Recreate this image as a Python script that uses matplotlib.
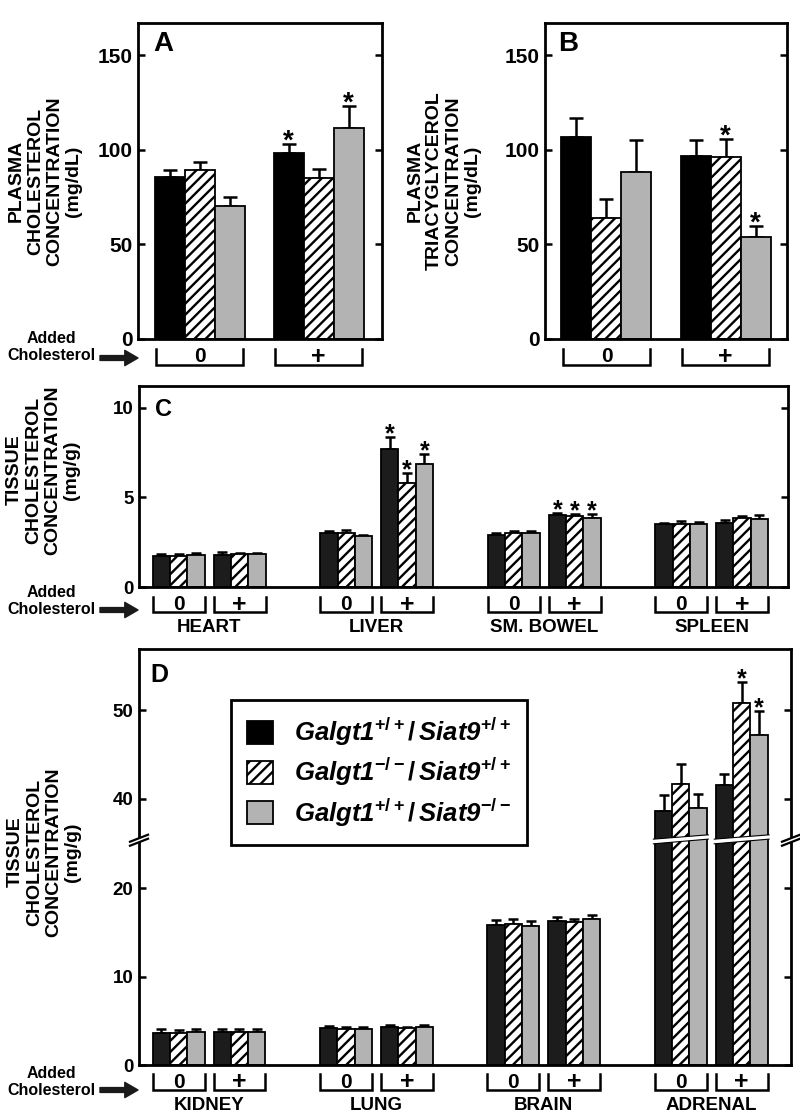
import numpy as np
import matplotlib
matplotlib.use('Agg')
import matplotlib.pyplot as plt
import matplotlib.transforms as mtransforms
from matplotlib.patches import Patch, Polygon, FancyArrowPatch
from matplotlib.lines import Line2D

plt.rcParams['font.family'] = ['Liberation Sans', 'DejaVu Sans']
plt.rcParams['font.weight'] = 'bold'
plt.rcParams['hatch.linewidth'] = 1.7
plt.rcParams['mathtext.fontset'] = 'custom'
plt.rcParams['mathtext.rm'] = 'Liberation Sans:italic:bold'
plt.rcParams['mathtext.it'] = 'Liberation Sans:italic:bold'
plt.rcParams['mathtext.sf'] = 'Liberation Sans:bold'
plt.rcParams['mathtext.bf'] = 'Liberation Sans:bold'

# ------------------------------------------------------------------ data
conditions = ['0', '+']
genotype_labels = [
    r'$\mathrm{Galgt1}^{\mathsf{+/+}}\mathsf{/}\,\mathrm{Siat9}^{\mathsf{+/+}}$',
    r'$\mathrm{Galgt1}^{\mathsf{-/-}}\mathsf{/}\,\mathrm{Siat9}^{\mathsf{+/+}}$',
    r'$\mathrm{Galgt1}^{\mathsf{+/+}}\mathsf{/}\,\mathrm{Siat9}^{\mathsf{-/-}}$',
]

# Panel A: plasma cholesterol (mg/dL) [condition][genotype]
plasma_chol_mean = [[85.7, 89.4, 70.4], [98.4, 85.0, 111.6]]
plasma_chol_sem = [[3.7, 4.3, 4.6], [4.6, 5.0, 11.4]]
plasma_chol_sig = [[0, 0, 0], [1, 0, 1]]

# Panel B: plasma triacylglycerol (mg/dL)
plasma_tg_mean = [[107.0, 64.0, 88.3], [96.8, 96.0, 54.0]]
plasma_tg_sem = [[10.0, 10.0, 16.7], [8.2, 9.6, 5.5]]
plasma_tg_sig = [[0, 0, 0], [0, 1, 1]]

# Panel C: tissue cholesterol (mg/g) [tissue][condition][genotype]
tissues_c = ['HEART', 'LIVER', 'SM. BOWEL', 'SPLEEN']
tissue_c_mean = [
    [[1.75, 1.75, 1.80], [1.80, 1.82, 1.82]],
    [[3.00, 3.02, 2.82], [7.67, 5.80, 6.85]],
    [[2.92, 3.00, 3.00], [4.00, 3.95, 3.85]],
    [[3.52, 3.50, 3.50], [3.58, 3.85, 3.78]],
]
tissue_c_sem = [
    [[0.08, 0.08, 0.10], [0.15, 0.07, 0.07]],
    [[0.12, 0.13, 0.10], [0.67, 0.55, 0.55]],
    [[0.10, 0.10, 0.10], [0.12, 0.10, 0.20]],
    [[0.07, 0.20, 0.10], [0.18, 0.10, 0.25]],
]
tissue_c_sig = [
    [[0, 0, 0], [0, 0, 0]],
    [[0, 0, 0], [1, 1, 1]],
    [[0, 0, 0], [1, 1, 1]],
    [[0, 0, 0], [0, 0, 0]],
]

# Panel D: tissue cholesterol (mg/g)
tissues_d = ['KIDNEY', 'LUNG', 'BRAIN', 'ADRENAL']
tissue_d_mean = [
    [[3.65, 3.65, 3.72], [3.70, 3.70, 3.70]],
    [[4.15, 4.10, 4.05], [4.25, 4.15, 4.35]],
    [[15.80, 15.90, 15.75], [16.30, 16.20, 16.45]],
    [[38.60, 41.70, 38.95], [41.55, 50.80, 47.20]],
]
tissue_d_sem = [
    [[0.40, 0.35, 0.38], [0.33, 0.38, 0.38]],
    [[0.30, 0.25, 0.25], [0.25, 0.20, 0.15]],
    [[0.55, 0.60, 0.55], [0.40, 0.25, 0.45]],
    [[1.85, 2.15, 1.55], [1.25, 2.40, 2.65]],
]
tissue_d_sig = [
    [[0, 0, 0], [0, 0, 0]],
    [[0, 0, 0], [0, 0, 0]],
    [[0, 0, 0], [0, 0, 0]],
    [[0, 0, 0], [0, 1, 1]],
]

# ------------------------------------------------------------------ layout helpers
W, H = 800, 1114
fig = plt.figure(figsize=(W / 100, H / 100), dpi=100)


def rect(l, t, r, b):
    return [l / W, 1 - b / H, (r - l) / W, (b - t) / H]


def fxy(x, y):
    return (x / W, 1 - y / H)


GRAY = '#b3b3b3'


def style_axes(ax, yticks, labelsize):
    for s in ax.spines.values():
        s.set_linewidth(2.0)
    ax.set_xticks([])
    ax.set_yticks(yticks)
    ax.yaxis.set_minor_locator(matplotlib.ticker.NullLocator())
    ax.tick_params(axis='y', which='major', direction='in', left=True,
                   right=True, length=5, width=1.8, labelsize=labelsize, pad=4)


def draw_bars(ax, centers, means, sems, sigs, blk, capsize, hatch,
              star_fs, star_dy, edge_lw=1.3):
    centers = np.asarray(centers, float)
    means = np.asarray(means, float)
    sems = np.asarray(sems, float)
    sigs = np.asarray(sigs)
    offsets = [-1.0, 0.0, 1.0]
    faces = [blk, 'white', GRAY]
    hatches = [None, hatch, None]
    for k in range(3):
        xs = centers + offsets[k]
        ax.errorbar(xs, means[:, k], yerr=[np.zeros(len(xs)), sems[:, k]],
                    fmt='none', ecolor='black', elinewidth=1.8,
                    capsize=capsize, capthick=1.8, zorder=1)
        ax.bar(xs, means[:, k], width=1.0, color=faces[k], edgecolor='black',
               linewidth=edge_lw, hatch=hatches[k], zorder=2)
        for g in range(len(xs)):
            if sigs[g, k]:
                ax.annotate('*', xy=(xs[g], means[g, k] + sems[g, k]),
                            xytext=(0, star_dy), textcoords='offset points',
                            ha='center', va='baseline', fontsize=star_fs,
                            fontweight='bold', zorder=3)


def draw_brackets(ax, centers, labels, half, ytop_px, ybot_px, ax_h, fs):
    trans = mtransforms.blended_transform_factory(ax.transData, ax.transAxes)
    yt, yb = -ytop_px / ax_h, -ybot_px / ax_h
    for c, lab in zip(centers, labels):
        ax.plot([c - half, c - half, c + half, c + half], [yt, yb, yb, yt],
                transform=trans, clip_on=False, color='black', lw=1.8,
                solid_joinstyle='miter')
        ax.text(c, (yt + yb) / 2, lab, transform=trans, ha='center',
                va='center', fontsize=fs * (1.2 if lab == '+' else 1.0),
                fontweight='bold')


def added_chol(y_mid, y_arrow):
    fig.text(*fxy(51, y_mid), 'Added\nCholesterol', ha='center', va='center',
             fontsize=11.5, fontweight='bold', linespacing=1.15)
    arr = FancyArrowPatch(fxy(100, y_arrow), fxy(138, y_arrow),
                          transform=fig.transFigure,
                          arrowstyle='simple,head_length=0.95,head_width=1.1,tail_width=0.35',
                          mutation_scale=10, color='#1a1a1a', shrinkA=0, shrinkB=0)
    fig.add_artist(arr)


def ylabel(x, y, txt):
    fig.text(*fxy(x, y), txt, rotation=90, ha='center', va='center',
             multialignment='center', fontsize=14, fontweight='bold',
             linespacing=1.15)


# ------------------------------------------------------------------ Panel A
axA = fig.add_axes(rect(138, 23, 382, 339))
centers_ab = [2.05, 6.02]
draw_bars(axA, centers_ab, plasma_chol_mean, plasma_chol_sem, plasma_chol_sig,
          'black', 4.7, '///', 20, -3)
axA.set_xlim(0, 8.13)
axA.set_ylim(0, 167)
style_axes(axA, [0, 50, 100, 150], 15)
axA.text(0.061, 0.975, 'A', transform=axA.transAxes, ha='left', va='top',
         fontsize=20, fontweight='bold')
draw_brackets(axA, centers_ab, conditions, 1.45, 10, 26, 316, 15)
ylabel(45, 181, 'PLASMA\nCHOLESTEROL\nCONCENTRATION\n(mg/dL)')
added_chol(347, 358)

# ------------------------------------------------------------------ Panel B
axB = fig.add_axes(rect(545, 23, 787, 339))
draw_bars(axB, centers_ab, plasma_tg_mean, plasma_tg_sem, plasma_tg_sig,
          'black', 4.7, '///', 20, -3)
axB.set_xlim(0, 8.07)
axB.set_ylim(0, 167)
style_axes(axB, [0, 50, 100, 150], 15)
axB.text(0.054, 0.975, 'B', transform=axB.transAxes, ha='left', va='top',
         fontsize=20, fontweight='bold')
draw_brackets(axB, centers_ab, conditions, 1.45, 10, 26, 316, 15)
ylabel(444, 181, 'PLASMA\nTRIACYGLYCEROL\nCONCENTRATION\n(mg/dL)')

# ------------------------------------------------------------------ Panel C / D positions
tissue_centers = 4.05 + 9.68 * np.arange(4)
sub_off = 1.76
group_centers = np.ravel([[t - sub_off, t + sub_off] for t in tissue_centers])
group_labels = conditions * 4


def flat(a):
    a = np.asarray(a, float)
    return a.reshape(-1, 3)


DARK = '#1c1c1c'

# ------------------------------------------------------------------ Panel C
axC = fig.add_axes(rect(139, 386, 788, 587))
draw_bars(axC, group_centers, flat(tissue_c_mean), flat(tissue_c_sem),
          flat(tissue_c_sig), DARK, 3.6, '///', 18, -3)
axC.set_xlim(0, 37.5)
axC.set_ylim(0, 11.2)
style_axes(axC, [0, 5, 10], 13.5)
axC.text(0.025, 0.94, 'C', transform=axC.transAxes, ha='left', va='top',
         fontsize=17, fontweight='bold')
draw_brackets(axC, group_centers, group_labels, 1.5, 10, 25, 201, 15)
transC = mtransforms.blended_transform_factory(axC.transData, axC.transAxes)
for t, name in zip(tissue_centers, tissues_c):
    axC.text(t, -41 / 201, name, transform=transC, ha='center', va='center',
             fontsize=13.5, fontweight='bold')
ylabel(43, 470, 'TISSUE\nCHOLESTEROL\nCONCENTRATION\n(mg/g)')
added_chol(601, 610)

# ------------------------------------------------------------------ Panel D (broken axis)
BRK_LO, BRK_HI = 25.4, 35.3
EPS = 1e-3


def fwd(v):
    v = np.asarray(v, dtype=float)
    return np.where(v <= BRK_LO, v,
                    np.where(v >= BRK_HI, v - (BRK_HI - BRK_LO) * (1 - EPS),
                             BRK_LO + (v - BRK_LO) * EPS))


def inv(u):
    u = np.asarray(u, dtype=float)
    mid_top = BRK_LO + (BRK_HI - BRK_LO) * EPS
    return np.where(u <= BRK_LO, u,
                    np.where(u >= mid_top, u + (BRK_HI - BRK_LO) * (1 - EPS),
                             BRK_LO + (u - BRK_LO) / EPS))


axD = fig.add_axes(rect(139, 649, 791, 1065))
axD.set_yscale('function', functions=(fwd, inv))
draw_bars(axD, group_centers, flat(tissue_d_mean), flat(tissue_d_sem),
          flat(tissue_d_sig), DARK, 3.6, '///', 18, -3)
axD.set_xlim(0, 37.7)
axD.set_ylim(0, 56.9)
style_axes(axD, [0, 10, 20, 40, 50], 13.5)
axD.yaxis.set_major_formatter(matplotlib.ticker.FuncFormatter(lambda v, p: f'{v:.0f}'))
axD.text(0.018, 0.966, 'D', transform=axD.transAxes, ha='left', va='top',
         fontsize=18, fontweight='bold')
draw_brackets(axD, group_centers, group_labels, 1.5, 9, 25, 416, 15)
transD = mtransforms.blended_transform_factory(axD.transData, axD.transAxes)
for t, name in zip(tissue_centers, tissues_d):
    axD.text(t, -40 / 416, name, transform=transD, ha='center', va='center',
             fontsize=13.5, fontweight='bold')
ylabel(44, 852, 'TISSUE\nCHOLESTEROL\nCONCENTRATION\n(mg/g)')
added_chol(1082, 1090)

# legend
handles = [Patch(facecolor='black', edgecolor='black', linewidth=1.3),
           Patch(facecolor='white', edgecolor='black', hatch='///', linewidth=1.3),
           Patch(facecolor=GRAY, edgecolor='black', linewidth=1.3)]
leg = axD.legend(handles, genotype_labels, loc='upper left',
                 bbox_to_anchor=fxy(231, 700), bbox_transform=fig.transFigure,
                 frameon=True, fancybox=False, edgecolor='black', framealpha=1,
                 fontsize=18.5, handlelength=1.0, handleheight=1.0,
                 handletextpad=0.85, labelspacing=0.32, borderpad=0.62,
                 borderaxespad=0)
leg.get_frame().set_linewidth(2.0)

# break marks: white slanted gaps across adrenal bars and on spines
inv_fig = fig.transFigure.inverted()
yb = axD.transData.transform((0, BRK_LO))[1]
adrenal_groups = group_centers[-2:]
for gc in adrenal_groups:
    xl = axD.transData.transform((gc - 1.5, 0))[0] - 1.5
    xr = axD.transData.transform((gc + 1.5, 0))[0] + 1.5
    pts = np.array([[xl, yb - 3.6], [xr, yb + 1.1], [xr, yb + 5.4], [xl, yb + 1.1]])
    fig.add_artist(Polygon(inv_fig.transform(pts), closed=True, facecolor='white',
                           edgecolor='none', transform=fig.transFigure, zorder=5))
    for a, b in [((xl, yb - 3.6), (xr, yb + 1.1)), ((xl, yb + 1.1), (xr, yb + 5.4))]:
        p = inv_fig.transform(np.array([a, b]))
        fig.add_artist(Line2D(p[:, 0], p[:, 1], color='black', lw=0.8,
                              transform=fig.transFigure, zorder=6))

for xa in (0, 1):
    x0 = axD.transAxes.transform((xa, 0))[0]
    l1 = np.array([[x0 - 9, yb - 5.5], [x0 + 9, yb + 1.5]])
    l2 = np.array([[x0 - 9, yb - 1.5], [x0 + 9, yb + 5.5]])
    poly = np.vstack([l1, l2[::-1]])
    fig.add_artist(Polygon(inv_fig.transform(poly), closed=True, facecolor='white',
                           edgecolor='none', transform=fig.transFigure, zorder=5))
    for ln in (l1, l2):
        p = inv_fig.transform(ln)
        fig.add_artist(Line2D(p[:, 0], p[:, 1], color='black', lw=1.6,
                              transform=fig.transFigure, zorder=6))

fig.savefig('out.png', dpi=100)
